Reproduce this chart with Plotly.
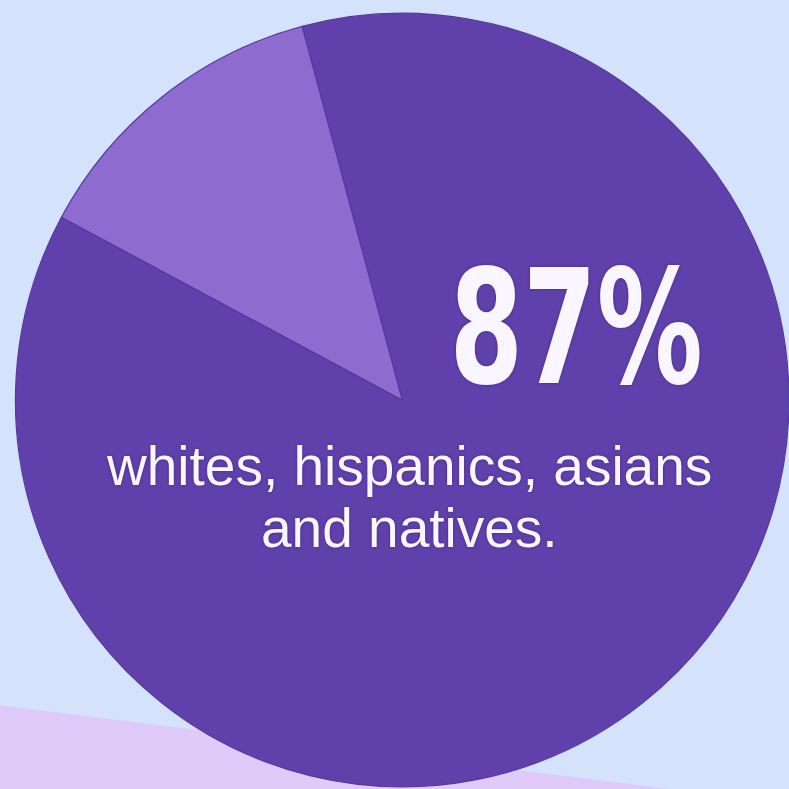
import plotly.graph_objects as go

# Population shares (percent)
groups = ["whites, hispanics, asians and natives", "others"]
shares = [87, 13]
slice_colors = ["#6041ac", "#8e6ccf"]

headline_lines = ["whites, hispanics, asians", "and natives."]

BG = "#d4e2fb"
BAND = "#e0cafa"
TEXT = "#f9f6ff"

fig = go.Figure()

fig.add_trace(go.Pie(
    labels=groups,
    values=shares,
    sort=False,
    direction="clockwise",
    rotation=-15,
    marker=dict(colors=slice_colors, line=dict(color="#55399c", width=1.2)),
    textinfo="none",
    hoverinfo="skip",
    showlegend=False,
    domain=dict(x=[0.0196, 1.0], y=[0.0025, 0.9835]),
))

# soft lavender band across the lower-left corner
fig.add_shape(
    type="path",
    xref="paper", yref="paper",
    path="M 0 0 L 0 0.106 L 1 -0.019 L 1 0 Z",
    fillcolor=BAND, line=dict(width=0), layer="below",
)

shadow = "0px 0px 3px rgba(40,20,90,0.55)"

# big percentage figure (condensed horizontally via CSS below)
fig.add_annotation(
    x=0.730, y=1 - 328 / 789, xref="paper", yref="paper",
    xanchor="center", yanchor="middle", showarrow=False,
    text=f"<b>{shares[0]}%</b>",
    font=dict(family="DejaVu Sans, sans-serif", size=158, color=TEXT, shadow=shadow),
)

for i, line in enumerate(headline_lines):
    fig.add_annotation(
        x=409 / 789, y=1 - (466 + 62 * i) / 789, xref="paper", yref="paper",
        xanchor="center", yanchor="middle", showarrow=False,
        text=line,
        font=dict(family="Liberation Sans, Arial, sans-serif", size=55,
                  color=TEXT, shadow=shadow),
    )

fig.update_layout(
    width=789, height=789,
    margin=dict(l=0, r=0, t=0, b=0),
    paper_bgcolor=BG, plot_bgcolor=BG,
)

condense_css = """
var st = document.createElement('style');
st.textContent = 'g.annotation[data-index="0"] text.annotation-text {' +
  'transform-box: fill-box; transform-origin: center; transform: scaleX(0.67); }';
document.head.appendChild(st);
"""

fig.write_html("out.html", post_script=condense_css)
